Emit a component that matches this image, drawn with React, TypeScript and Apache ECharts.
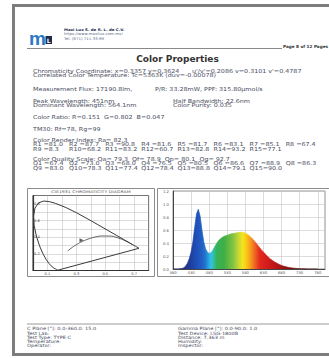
import React, { useEffect, useRef } from "react";
import * as echarts from "echarts";

// ---------- text content ----------
const companyLines = ["Maxi Lux S. de R. L. de C.V.", "https://www.maxilux.com.mx/", "Tel: (871) 711-33-89"];
const pageText = "Page 8 of 12 Pages";
const reportTitle = "Color Properties";
const chromaText = ["Chromaticity Coordinate: x=0.3357 y=0.3624", "u'/v'=0.2086 v=0.3101 v'=0.4787"];
const cctText = "Correlated Color Temperature: Tc=5363K (duv=-0.00078)";
const fluxText = ["Measurement Flux: 17190.8lm,", "P/R: 33.28mW, PPF: 315.80\u03bcmol/s"];
const waveLeft = ["Peak Wavelength: 451nm", "Dominant Wavelength: 564.1nm"];
const waveRight = ["Half Bandwidth: 22.6nm", "Color Purity: 0.035"];
const ratioText = "Color Ratio: R=0.151  G=0.802  B=0.047";
const tm30Text = "TM30: Rf=78, Rg=99";
const criTitle = "Color Render Index: Ra= 82.3";
const criValues = [81.0, 87.7, 90.8, 81.6, 81.7, 83.1, 85.1, 67.4, 8.3, 68.2, 83.2, 60.7, 82.8, 93.2, 77.1];
const cqsTitle = "Color Quality Scale: Qa= 79.3  Qf= 78.9  Qp= 80.1  Qg= 92.7";
const cqsValues = [67.4, 73.0, 68.0, 76.5, 80.5, 86.6, 88.9, 86.3, 83.0, 78.3, 77.4, 78.4, 88.8, 79.1, 90.0];
const cieTitle = "CIE1931 CHROMATICITY DIAGRAM";
const footerLeft = ["C Plane [\u00b0]: 0.0-360.0: 15.0", "Test Lab:", "Test Type: TYPE C", "Temperature:", "Operator:"];
const footerRight = ["Gamma Plane [\u00b0]: 0.0-90.0: 1.0", "Test Device: LSG-1800B", "Distance: 7.363 m", "Humidity:", "Inspector:"];

// ---------- CIE 1931 spectral locus ----------
const locusX = [0.1741, 0.1738, 0.1733, 0.1726, 0.1714, 0.1689, 0.1644, 0.1566, 0.144, 0.1241, 0.1096, 0.0913, 0.0687, 0.0454, 0.0235, 0.0082, 0.0039, 0.0139, 0.0389, 0.0743, 0.1142, 0.1547, 0.2296, 0.3016, 0.3731, 0.4441, 0.5125, 0.5752, 0.627, 0.6658, 0.6915, 0.7079, 0.719, 0.726, 0.73, 0.7334, 0.7347, 0.1741];
const locusY = [0.005, 0.0049, 0.0048, 0.0048, 0.0051, 0.0069, 0.0109, 0.0177, 0.0297, 0.0578, 0.0868, 0.1327, 0.2007, 0.295, 0.4127, 0.5384, 0.6548, 0.7502, 0.812, 0.8338, 0.8262, 0.8059, 0.7543, 0.6923, 0.6245, 0.5547, 0.4866, 0.4242, 0.3725, 0.334, 0.3083, 0.292, 0.2809, 0.274, 0.27, 0.2666, 0.2653, 0.005];
// Planckian locus
const planckX = [0.2399, 0.2637, 0.2807, 0.2952, 0.3064, 0.3221, 0.3451, 0.3805, 0.4053, 0.4369, 0.477, 0.5267, 0.5857, 0.6528, 0.686];
const planckY = [0.2342, 0.2674, 0.2884, 0.3048, 0.3166, 0.3318, 0.3516, 0.3768, 0.3907, 0.4041, 0.4137, 0.4133, 0.3931, 0.3444, 0.312];
const measuredPoint = [0.3357, 0.3624];

// ---------- spectrum ----------
const spectrumWl = [380, 385, 390, 395, 400, 405, 410, 415, 420, 425, 430, 435, 440, 445, 450, 455, 460, 465, 470, 475, 480, 485, 490, 495, 500, 505, 510, 515, 520, 525, 530, 535, 540, 545, 550, 555, 560, 565, 570, 575, 580, 585, 590, 595, 600, 605, 610, 615, 620, 625, 630, 635, 640, 645, 650, 655, 660, 665, 670, 675, 680, 685, 690, 695, 700, 705, 710, 715, 720, 725, 730, 735, 740, 745, 750, 755, 760, 765, 770, 775, 780];
const spectrumVal = [0, 0, 0, 0.001, 0.003, 0.008, 0.02, 0.045, 0.09, 0.16, 0.26, 0.42, 0.64, 0.85, 0.92, 0.81, 0.6, 0.42, 0.31, 0.26, 0.24, 0.25, 0.29, 0.34, 0.39, 0.43, 0.46, 0.48, 0.5, 0.51, 0.52, 0.53, 0.54, 0.545, 0.55, 0.555, 0.56, 0.565, 0.565, 0.56, 0.55, 0.535, 0.515, 0.49, 0.46, 0.43, 0.395, 0.36, 0.325, 0.29, 0.26, 0.23, 0.2, 0.175, 0.15, 0.13, 0.11, 0.095, 0.08, 0.066, 0.055, 0.045, 0.037, 0.03, 0.024, 0.019, 0.015, 0.012, 0.009, 0.007, 0.005, 0.004, 0.003, 0.002, 0.0015, 0.001, 0.0008, 0.0005, 0.0003, 0.0002, 0];
const colorWl = [380, 410, 430, 445, 460, 470, 478, 485, 492, 500, 520, 545, 560, 572, 580, 592, 605, 620, 640, 665, 690, 730, 780];
const colorHex = ["#2a1f6e", "#23317f", "#1f3f9f", "#1f4fb8", "#2160c4", "#2378cf", "#27a3e0", "#35c0e6", "#2fbfae", "#35b35a", "#3fae46", "#7fc242", "#c1d637", "#f2e51d", "#fcd116", "#f6a41c", "#ef6a23", "#e2281e", "#d31c1c", "#b81616", "#941212", "#6e0e0e", "#5a0a0a"];

const FONT = "DejaVu Sans";
const TEXT_COLOR = "#474b5c";

function txt(x: number, y: number, text: string, o: any = {}) {
  const align = o.align ?? "left";
  return {
    type: "text",
    x,
    y,
    scaleX: o.sx ?? 1.18,
    silent: true,
    z: 10,
    style: {
      text,
      fontSize: o.size ?? 5.4,
      fontFamily: o.family ?? FONT,
      fontWeight: o.bold ? "bold" : "normal",
      fill: o.color ?? TEXT_COLOR,
      align,
      textAlign: align,
      verticalAlign: "middle",
      textVerticalAlign: "middle",
    },
  };
}
function hline(x1: number, x2: number, y: number, color = "#8a8a8a", w = 1) {
  return { type: "line", silent: true, shape: { x1, y1: y, x2, y2: y }, style: { stroke: color, lineWidth: w } };
}
function box(x: number, y: number, w: number, h: number, o: any = {}) {
  return { type: "rect", silent: true, z: o.z ?? 1, shape: { x, y, width: w, height: h }, style: { fill: o.fill ?? "none", stroke: o.stroke ?? "none", lineWidth: o.lw ?? 1 } };
}

function buildGraphic() {
  const g: any[] = [];
  // page frame
  g.push(box(13.5, 5.5, 330, 349, { stroke: "#7d7d7d", lw: 3 }));
  // logo
  g.push({ type: "text", x: 29, y: 38.5, silent: true, style: { text: "m", fontSize: 19, fontWeight: "bold", fontFamily: "Liberation Sans", fill: "#2b78c4", align: "left", textAlign: "left", verticalAlign: "middle", textVerticalAlign: "middle" } });
  g.push(box(45.5, 36, 6.5, 8, { fill: "#1d2b4f" }));
  g.push(txt(48.75, 40.3, "L", { size: 6, bold: true, color: "#ffffff", align: "center", sx: 1 }));
  // company
  g.push(txt(64, 29.5, companyLines[0], { size: 3.6, bold: true, color: "#1d2b4f", sx: 1.1 }));
  g.push(txt(64, 34, companyLines[1], { size: 3.6, color: "#5a6a8a", sx: 1.1 }));
  g.push(txt(64, 38.5, companyLines[2], { size: 3.6, color: "#5a6a8a", sx: 1.1 }));
  g.push(hline(27, 282, 48.5, "#8a8a8a", 1));
  g.push(txt(283, 46, pageText, { size: 4.2, bold: true, color: "#333", sx: 1.0 }));
  // title
  g.push(txt(177.5, 59, reportTitle, { size: 9, bold: true, color: "#333", align: "center", sx: 1 }));
  // info
  g.push(txt(33, 71, chromaText[0]));
  g.push(txt(192, 71, chromaText[1]));
  g.push(txt(33, 75.5, cctText));
  g.push(txt(33, 89.5, fluxText[0]));
  g.push(txt(155, 89.5, fluxText[1]));
  g.push(txt(33, 101, waveLeft[0]));
  g.push(txt(173, 101, waveRight[0]));
  g.push(txt(33, 105.5, waveLeft[1]));
  g.push(txt(173, 105.5, waveRight[1]));
  g.push(txt(33, 117, ratioText));
  g.push(txt(33, 129, tm30Text));
  g.push(txt(33, 140, criTitle));
  const step = 36.1;
  criValues.forEach((v, i) => {
    const label = ("R" + (i + 1)).padEnd(3, " ") + "=" + v.toFixed(1);
    const row = i < 8 ? 0 : 1;
    const col = i < 8 ? i : i - 8;
    g.push(txt(33 + col * step, 144.5 + row * 4.5, label));
  });
  g.push(txt(33, 159, cqsTitle));
  cqsValues.forEach((v, i) => {
    const label = ("Q" + (i + 1)).padEnd(3, " ") + "=" + v.toFixed(1);
    const row = i < 8 ? 0 : 1;
    const col = i < 8 ? i : i - 8;
    g.push(txt(33 + col * step, 163.5 + row * 4.5, label));
  });
  // chart boxes
  g.push(box(27.5, 188.5, 127, 88, { stroke: "#8c8c8c", lw: 1 }));
  g.push(box(157.5, 188.5, 180, 88, { stroke: "#8c8c8c", lw: 1 }));
  g.push(txt(91, 191.8, cieTitle, { size: 3.6, color: "#555", align: "center", sx: 1.3 }));
  // footer
  g.push(hline(27, 329, 324, "#9a9a9a", 1));
  footerLeft.forEach((t, i) => g.push(txt(27, 329 + i * 4.2, t, { size: 4.4, sx: 1.15 })));
  footerRight.forEach((t, i) => g.push(txt(178, 329 + i * 4.2, t, { size: 4.4, sx: 1.15 })));
  return g;
}

function spectrumGradient() {
  const lo = spectrumWl[0];
  const hi = spectrumWl[spectrumWl.length - 1];
  return new echarts.graphic.LinearGradient(
    0, 0, 1, 0,
    colorWl.map((w, i) => ({ offset: (w - lo) / (hi - lo), color: colorHex[i] }))
  );
}

function buildOption(): any {
  const cieLabelStyle = { fontSize: 3.6, color: "#444", fontFamily: FONT };
  return {
    animation: false,
    backgroundColor: "#ffffff",
    grid: [
      { left: 33, top: 195.5, width: 115.6, height: 75, show: true, borderColor: "#333", borderWidth: 1, backgroundColor: "#fff" },
      { left: 173, top: 191, width: 152, height: 78, show: true, borderColor: "#777", borderWidth: 0.8, backgroundColor: "#fff" },
    ],
    xAxis: [
      {
        type: "value", gridIndex: 0, min: 0, max: 0.8, interval: 0.1,
        axisLine: { lineStyle: { color: "#333", width: 1.2 } },
        axisTick: { show: false },
        splitLine: { show: true, lineStyle: { color: "#b8b8b8", width: 0.5 } },
        axisLabel: { ...cieLabelStyle, margin: 1.5, formatter: (v: number) => (Math.round(v * 10) % 2 === 1 ? v.toFixed(1) : "") },
      },
      {
        type: "value", gridIndex: 1, min: 380, max: 800, interval: 50,
        axisLine: { lineStyle: { color: "#444", width: 1 } },
        axisTick: { show: false },
        splitLine: { show: true, lineStyle: { color: "#c4c4c4", width: 0.6 } },
        axisLabel: { fontSize: 3.8, color: "#555", fontFamily: FONT, margin: 1.8, showMaxLabel: false },
      },
    ],
    yAxis: [
      {
        type: "value", gridIndex: 0, min: 0, max: 0.9, interval: 0.1,
        axisLine: { lineStyle: { color: "#333", width: 1.2 } },
        axisTick: { show: false },
        splitLine: { show: true, lineStyle: { color: "#b8b8b8", width: 0.5 } },
        axisLabel: { ...cieLabelStyle, inside: true, margin: 1, formatter: (v: number) => { const k = Math.round(v * 10); return k > 0 && k % 2 === 0 ? v.toFixed(1) : ""; } },
      },
      {
        type: "value", gridIndex: 1, min: 0, max: 1.2, interval: 0.2,
        axisLine: { show: true, lineStyle: { color: "#444", width: 1 } },
        axisTick: { show: false },
        splitLine: { show: true, lineStyle: { color: "#c4c4c4", width: 0.6 } },
        axisLabel: { fontSize: 3.8, color: "#555", fontFamily: FONT, margin: 4, formatter: (v: number) => v.toFixed(1) },
      },
    ],
    series: [
      {
        type: "line", xAxisIndex: 0, yAxisIndex: 0, symbol: "none", silent: true,
        data: locusX.map((x, i) => [x, locusY[i]]),
        lineStyle: { color: "#3a3a3a", width: 1 },
      },
      {
        type: "line", xAxisIndex: 0, yAxisIndex: 0, symbol: "none", silent: true, smooth: true,
        data: planckX.map((x, i) => [x, planckY[i]]),
        lineStyle: { color: "#3a3a3a", width: 0.8 },
      },
      {
        type: "scatter", xAxisIndex: 0, yAxisIndex: 0, silent: true,
        data: [measuredPoint], symbol: "triangle", symbolRotate: -90, symbolSize: 4,
        itemStyle: { color: "#333" },
      },
      {
        type: "line", xAxisIndex: 1, yAxisIndex: 1, symbol: "none", silent: true,
        data: spectrumWl.map((w, i) => [w, spectrumVal[i]]),
        lineStyle: { color: spectrumGradient(), width: 0.7 },
        areaStyle: { color: spectrumGradient(), opacity: 1 },
      },
    ],
    graphic: buildGraphic(),
  };
}

export default function App() {
  const ref = useRef<HTMLDivElement>(null);
  useEffect(() => {
    if (!ref.current) return;
    const chart = echarts.init(ref.current, null, { renderer: "svg" });
    chart.setOption(buildOption());
    return () => chart.dispose();
  }, []);
  return (
    <div
      ref={ref}
      style={{ position: "fixed", left: 0, top: 0, width: 329, height: 358, background: "#fff" }}
    />
  );
}
